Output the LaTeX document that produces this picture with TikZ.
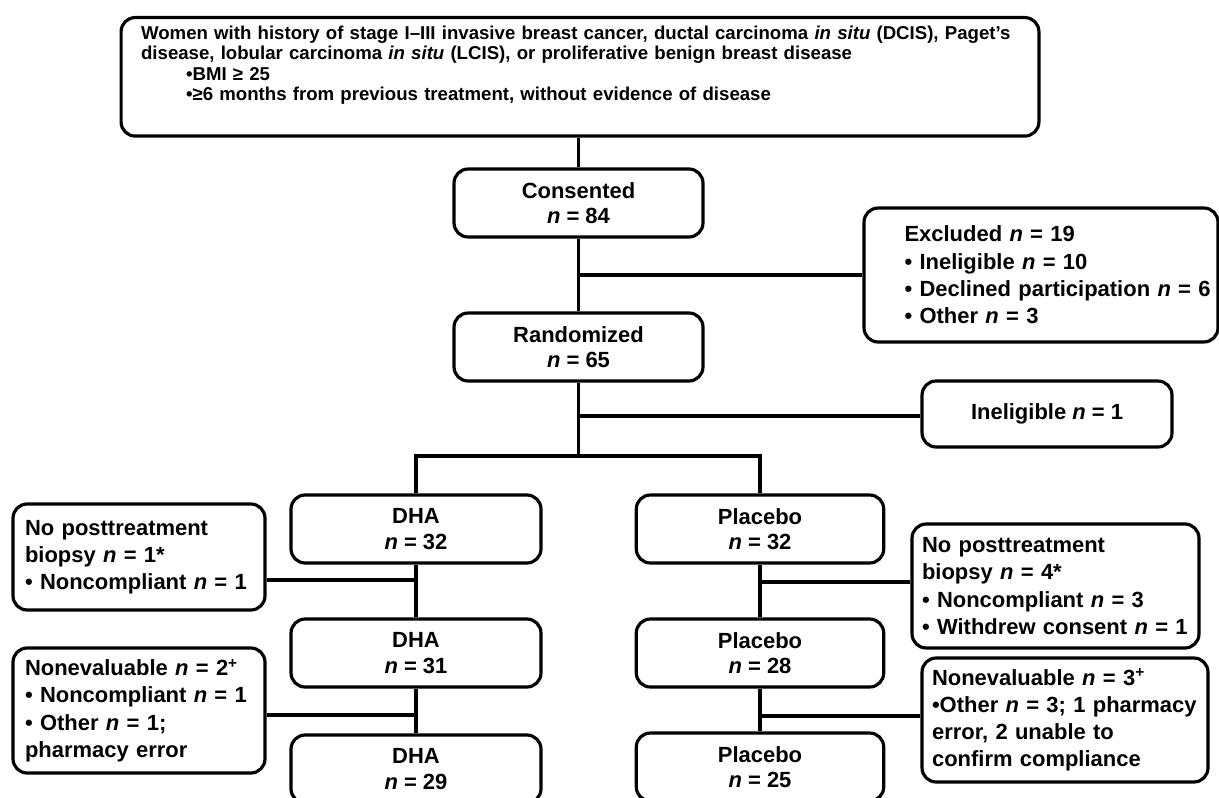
\documentclass[tikz,border=0pt]{standalone}
\usepackage{fontspec}
\setmainfont{Liberation Sans}
\newcommand{\nobs}{\textit{n}}

\begin{document}
\begin{tikzpicture}[x=0.02cm, y=-0.02cm,
    box/.style={draw, line width=1.8pt, rounded corners=8pt, inner sep=0pt,
      font=\fontsize{12.5}{14.5}\selectfont\bfseries, align=center,
      minimum width=5cm, minimum height=1.36cm},
    sidebox/.style={box, align=left, font=\fontsize{12.5}{15.5}\selectfont\bfseries},
    link/.style={line width=1.9pt}]
    \useasboundingbox (0,0) rectangle (1219,797);
    \fill[white] (0,0) rectangle (1219,797);

    % Main flow
    \node[box, anchor=north, align=left, text width=17.56cm, inner xsep=0.4cm, inner ysep=0.16cm,
      text depth=1.78cm, font=\fontsize{10.6}{11.7}\selectfont\bfseries] (elig) at (580,16)
      {Women with history of stage I–III invasive breast cancer, ductal carcinoma \textit{in situ} (DCIS), Paget’s\\
       disease, lobular carcinoma \textit{in situ} (LCIS), or proliferative benign breast disease\\
       \hspace*{0.9cm}•BMI ≥ 25\\
       \hspace*{0.9cm}•≥6 months from previous treatment, without evidence of disease};
    \node[box, minimum width=4.98cm] (cons) at (578.5,203) {Consented\\\nobs{} = 84};
    \node[box, minimum width=4.98cm] (rand) at (578.5,347) {Randomized\\\nobs{} = 65};

    % Arms
    \node[box] (dha0) at (416,529) {DHA\\\nobs{} = 32};
    \node[box] (dha1) at (416,653) {DHA\\\nobs{} = 31};
    \node[box] (dha2) at (416,769) {DHA\\\nobs{} = 29};
    \node[box, minimum width=4.95cm] (plc0) at (760,529) {Placebo\\\nobs{} = 32};
    \node[box, minimum width=4.95cm] (plc1) at (760,653) {Placebo\\\nobs{} = 28};
    \node[box, minimum width=4.95cm] (plc2) at (760,767) {Placebo\\\nobs{} = 25};

    % Side boxes
    \node[sidebox, text width=5.46cm, inner xsep=0.81cm, minimum height=2.68cm] (excl) at (1041,275)
      {Excluded \nobs{} = 19\\• Ineligible \nobs{} = 10\\\mbox{• Declined participation \nobs{} = 6}\\• Other \nobs{} = 3};
    \node[box, minimum height=1.32cm] (inel) at (1047,414) {Ineligible \nobs{} = 1};
    \node[sidebox, text width=4.56cm, inner xsep=0.24cm, minimum height=2.12cm] (skipd) at (139,557)
      {No posttreatment\\biopsy \nobs{} = 1*\\\mbox{• Noncompliant \nobs{} = 1}};
    \node[sidebox, text width=4.56cm, inner xsep=0.24cm, minimum height=2.5cm] (nevd) at (139,710.5)
      {Nonevaluable \nobs{} = 2\textsuperscript{+}\\\mbox{• Noncompliant \nobs{} = 1}\\• Other \nobs{} = 1;\\pharmacy error};
    \node[sidebox, text width=5.34cm, inner xsep=0.2cm, minimum height=2.48cm] (skipp) at (1055.5,586)
      {No posttreatment\\biopsy \nobs{} = 4*\\• Noncompliant \nobs{} = 3\\\mbox{• Withdrew consent \nobs{} = 1}};
    \node[sidebox, text width=5.32cm, inner xsep=0.2cm, minimum height=2.48cm] (nevp) at (1065,720)
      {Nonevaluable \nobs{} = 3\textsuperscript{+}\\\mbox{•Other \nobs{} = 3; 1 pharmacy}\\error, 2 unable to\\confirm compliance};

    % Connectors
    \coordinate (jx) at (cons.center |- excl.west);
    \coordinate (ji) at (578.5,416);
    \coordinate (split) at (578.5,456);
    \coordinate (jd0) at (416,580);
    \coordinate (jd1) at (416,715);
    \coordinate (jp0) at (760,582);
    \coordinate (jp1) at (760,716);
    \draw[link] (cons.north) -- (cons.north |- elig.south);
    \draw[link] (cons) -- (rand);
    \draw[link] (jx) -- (excl);
    \draw[link] (ji) -- (ji -| inel.west);
    \draw[link] (rand) -- (split);
    \draw[link] (dha0.north) |- (split) -| (plc0.north);
    \draw[link] (dha0) -- (dha1); \draw[link] (dha1) -- (dha2);
    \draw[link] (plc0) -- (plc1); \draw[link] (plc1) -- (plc2);
    \draw[link] (skipd.east |- jd0) -- (jd0);
    \draw[link] (nevd.east |- jd1) -- (jd1);
    \draw[link] (jp0) -- (jp0 -| skipp.west);
    \draw[link] (jp1) -- (jp1 -| nevp.west);
\end{tikzpicture}
\end{document}
